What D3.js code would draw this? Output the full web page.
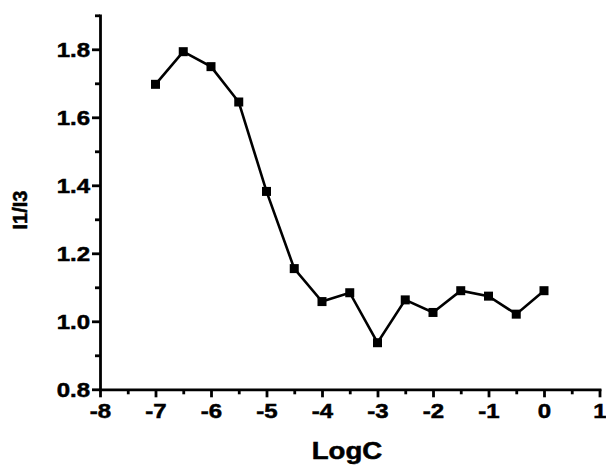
<!DOCTYPE html>
<html>
<head>
<meta charset="utf-8">
<script src="https://cdn.jsdelivr.net/npm/d3@7"></script>
<style>
  body { margin: 0; background: #fff; }
  svg text { font-family: "Liberation Sans", Arial, sans-serif; font-weight: bold; fill: #000; stroke: #000; stroke-width: 0.5px; }
</style>
</head>
<body>
<div id="chart"></div>
<script>
const logC  = [-7, -6.5, -6, -5.5, -5, -4.5, -4, -3.5, -3, -2.5, -2, -1.5, -1, -0.5, 0];
const ratio = [1.697, 1.793, 1.749, 1.645, 1.382, 1.155, 1.058, 1.084, 0.937, 1.063, 1.026, 1.090, 1.074, 1.021, 1.090];
const xMajor = [-8, -7, -6, -5, -4, -3, -2, -1, 0, 1];
const xMinor = [-7.5, -6.5, -5.5, -4.5, -3.5, -2.5, -1.5, -0.5, 0.5];
const yMajor = [0.8, 1.0, 1.2, 1.4, 1.6, 1.8];
const yMinor = [0.9, 1.1, 1.3, 1.5, 1.7, 1.9];

const W = 606, H = 465;
const SX = 1.2; // labels look stretched sideways in the original

const svg = d3.select('#chart').append('svg').attr('width', W).attr('height', H);

const x = d3.scaleLinear().domain([-8, 1]).range([100, 599.5]);
const y = d3.scaleLinear().domain([0.8, 1.9]).range([389.3, 15.3]);

// minor ticks first
svg.append('g').attr('transform', `translate(0,${y(0.8)})`)
  .call(d3.axisBottom(x).tickValues(xMinor).tickSize(5).tickFormat(''))
  .call(g => g.select('.domain').remove());
svg.append('g').attr('transform', `translate(${x(-8)},0)`)
  .call(d3.axisLeft(y).tickValues(yMinor).tickSize(5).tickFormat(''))
  .call(g => g.select('.domain').remove());

const xAxis = svg.append('g').attr('transform', `translate(0,${y(0.8)})`)
  .call(d3.axisBottom(x).tickValues(xMajor).tickSize(8).tickSizeOuter(0).tickFormat(d => String(d)));
xAxis.selectAll('text')
  .attr('y', 0).attr('dy', 0)
  .attr('transform', `translate(0,29) scale(${SX},1)`)
  .attr('font-size', '20px');

const yAxis = svg.append('g').attr('transform', `translate(${x(-8)},0)`)
  .call(d3.axisLeft(y).tickValues(yMajor).tickSize(8).tickSizeOuter(0).tickFormat(d => d.toFixed(1)));
yAxis.selectAll('text')
  .attr('x', 0).attr('dy', 0)
  .attr('transform', `translate(-10,7) scale(${SX},1)`)
  .attr('font-size', '20px');

svg.selectAll('.domain, .tick line').attr('stroke', '#000').attr('stroke-width', 2.8);
svg.selectAll('.domain').attr('stroke-linecap', 'square');

// data
const line = d3.line().x((d, i) => x(logC[i])).y(d => y(d));
svg.append('path').datum(ratio)
  .attr('d', line).attr('fill', 'none')
  .attr('stroke', '#000').attr('stroke-width', 2.6);

svg.selectAll('rect.pt').data(ratio).join('rect')
  .attr('class', 'pt')
  .attr('x', (d, i) => x(logC[i]) - 4.5).attr('y', d => y(d) - 4.5)
  .attr('width', 9).attr('height', 9).attr('fill', '#000');

// titles
svg.append('text')
  .attr('transform', `translate(347,459) scale(${SX},1)`)
  .attr('text-anchor', 'middle').attr('font-size', '23px')
  .text('LogC');

svg.append('text')
  .attr('transform', 'translate(27,210) rotate(-90)')
  .attr('text-anchor', 'middle').attr('font-size', '20px')
  .text('I1/I3');
</script>
</body>
</html>
